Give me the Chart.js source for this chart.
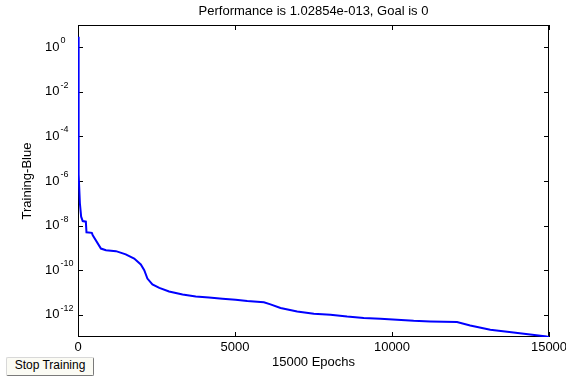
<!DOCTYPE html>
<html>
<head>
<meta charset="utf-8">
<script src="https://cdn.jsdelivr.net/npm/chart.js@4"></script>
<style>
  html, body { margin: 0; padding: 0; background: #fff; }
  #wrap { position: relative; width: 566px; height: 376px; }
  #stopBtn {
    position: absolute; left: 6px; top: 357px; width: 86px; height: 17px;
    font: 12px "Liberation Sans", Arial, sans-serif; color: #000;
    background: #fbfbf4; border: 1px solid #7a7a7a; border-top-color: #d8d8d8; border-left-color: #d8d8d8;
    border-radius: 2px; padding: 0; line-height: 15px; text-align: center;
  }
</style>
</head>
<body>
<div id="wrap">
  <canvas id="chart" width="566" height="376"></canvas>
  <div id="stopBtn">Stop Training</div>
</div>
<script>
// training record (epoch, performance)
const epochs = [0, 20, 60, 100, 150, 250, 270, 440, 470, 730, 890, 1210, 1520, 1790, 2000,
    2110, 2210, 2370, 2590, 2900, 3330, 3750, 4170, 4600, 5020, 5390, 5920, 6130, 6450,
    6980, 7510, 8040, 8570, 9100, 9630, 10160, 10690, 11220, 12070, 12490, 13130, 13870,
    14400, 14930, 15000];
const perf = [3, 2e-6, 1e-7, 2.5e-8, 1.6e-8, 1.5e-8, 5e-9, 4.7e-9, 3.7e-9, 9.3e-10, 7.8e-10,
    7.1e-10, 5.1e-10, 3.3e-10, 1.8e-10, 1e-10, 4.2e-11, 2.3e-11, 1.6e-11, 1.1e-11, 8.1e-12,
    6.6e-12, 5.9e-12, 5.2e-12, 4.7e-12, 4.1e-12, 3.6e-12, 2.9e-12, 2.0e-12, 1.4e-12, 1.1e-12,
    1.0e-12, 8.3e-13, 7.2e-13, 6.6e-13, 5.9e-13, 5.3e-13, 5.0e-13, 4.7e-13, 3.3e-13, 2.1e-13,
    1.6e-13, 1.3e-13, 1.05e-13, 1.02854e-13];

const xTicks = [0, 5000, 10000, 15000];
const yExps = [0, -2, -4, -6, -8, -10, -12];

const titleText = 'Performance is 1.02854e-013, Goal is 0';
const xTitle = '15000 Epochs';
const yTitle = 'Training-Blue';

const FONT = '"Liberation Sans", Arial, sans-serif';

// box + inward tick marks + 10^n labels, like the matlab axes
const frame = {
    id: 'frame',
    beforeDatasetsDraw(chart) {
        const { ctx, chartArea: a, scales: { x, y } } = chart;
        ctx.save();
        ctx.strokeStyle = '#000';
        ctx.lineWidth = 1;
        ctx.strokeRect(a.left + 0.5, a.top + 0.5, a.right - a.left - 1, a.bottom - a.top - 1);
        ctx.beginPath();
        xTicks.forEach(v => {
            const px = Math.round(x.getPixelForValue(v)) + 0.5;
            ctx.moveTo(px, a.bottom); ctx.lineTo(px, a.bottom - 5);
            ctx.moveTo(px, a.top); ctx.lineTo(px, a.top + 5);
        });
        yExps.forEach(e => {
            const py = Math.round(y.getPixelForValue(Math.pow(10, e))) + 0.5;
            ctx.moveTo(a.left, py); ctx.lineTo(a.left + 5, py);
            ctx.moveTo(a.right, py); ctx.lineTo(a.right - 5, py);
        });
        ctx.stroke();

        ctx.fillStyle = '#000';
        ctx.textBaseline = 'middle';
        ctx.textAlign = 'left';
        yExps.forEach(e => {
            const py = y.getPixelForValue(Math.pow(10, e));
            const bx = a.left - 33;
            ctx.font = '13px ' + FONT;
            ctx.fillText('10', bx, py);
            const w = ctx.measureText('10').width;
            ctx.font = '9px ' + FONT;
            ctx.fillText(String(e), bx + w + 1, py - 6.5);
        });
        ctx.restore();
    }
};

new Chart(document.getElementById('chart').getContext('2d'), {
    type: 'line',
    data: {
        datasets: [{
            data: epochs.map((e, i) => ({ x: e, y: perf[i] })),
            borderColor: '#0000ff',
            borderWidth: 2,
            pointRadius: 0,
            tension: 0,
            fill: false
        }]
    },
    options: {
        responsive: false,
        animation: false,
        layout: { padding: { left: 0, right: 17, top: 0, bottom: 0 } },
        plugins: {
            legend: { display: false },
            tooltip: { enabled: false },
            title: {
                display: true,
                fullSize: false,
                text: titleText,
                color: '#000',
                font: { family: FONT, size: 13, weight: 'normal' },
                padding: { top: 4, bottom: 5.4 }
            }
        },
        scales: {
            x: {
                type: 'linear',
                min: 0,
                max: 15000,
                afterBuildTicks: s => { s.ticks = xTicks.map(v => ({ value: v })); },
                afterFit: s => { s.height = 39; s.paddingLeft = 0; s.paddingRight = 0; },
                grid: { display: false, drawTicks: false },
                border: { display: false },
                ticks: {
                    color: '#000',
                    padding: 3,
                    maxRotation: 0,
                    font: { family: FONT, size: 13 },
                    callback: v => String(v)
                },
                title: {
                    display: true,
                    text: xTitle,
                    color: '#000',
                    font: { family: FONT, size: 13 },
                    padding: { top: 0, bottom: 6.2 }
                }
            },
            y: {
                type: 'logarithmic',
                min: 1e-13,
                max: 10,
                afterFit: s => { s.width = 78; },
                grid: { display: false, drawTicks: false },
                border: { display: false },
                ticks: { display: false },
                title: {
                    display: true,
                    text: yTitle,
                    color: '#000',
                    font: { family: FONT, size: 13 },
                    padding: { top: 20, bottom: 0 }
                }
            }
        }
    },
    plugins: [frame]
});
</script>
</body>
</html>
